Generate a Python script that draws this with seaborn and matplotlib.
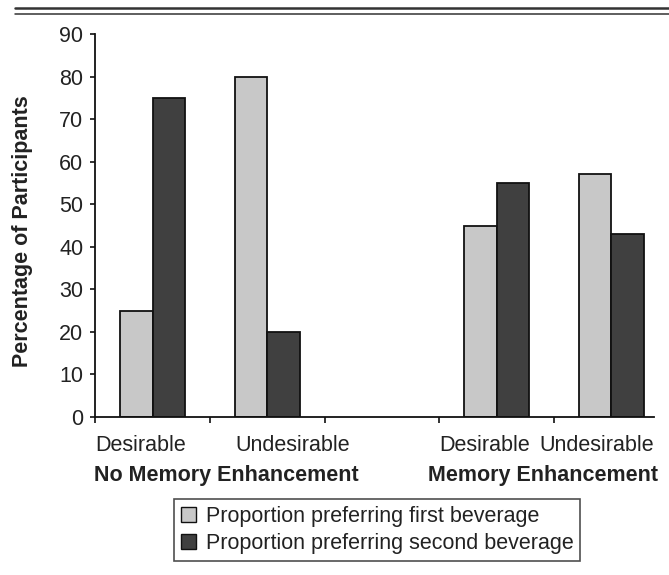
import matplotlib
matplotlib.use("Agg")
import matplotlib.pyplot as plt
from matplotlib.lines import Line2D
import seaborn as sns
import pandas as pd

# ---- data ----
slots = ["NoMem-Desirable", "NoMem-Undesirable", "gap", "Mem-Desirable", "Mem-Undesirable"]
slot_labels = ["Desirable", "Undesirable", "", "Desirable", "Undesirable"]
bar_slots = ["NoMem-Desirable", "NoMem-Undesirable", "Mem-Desirable", "Mem-Undesirable"]
first_beverage = [25, 80, 45, 57]
second_beverage = [75, 20, 55, 43]
series_names = ["Proportion preferring first beverage", "Proportion preferring second beverage"]
group_labels = ["No Memory Enhancement", "Memory Enhancement"]
y_ticks = [0, 10, 20, 30, 40, 50, 60, 70, 80, 90]
y_label = "Percentage of Participants"

# layout (not data)
label_offsets = [-0.105, 0.225, 0.0, -0.104, -0.125]
group_label_x = [0.639, 3.40]
colors = ["#c8c8c8", "#404040"]

df = pd.DataFrame({
    "slot": bar_slots * 2,
    "series": [series_names[0]] * 4 + [series_names[1]] * 4,
    "value": first_beverage + second_beverage,
})

sns.set_style("white")
plt.rcParams["font.family"] = ["Liberation Sans", "DejaVu Sans"]
FS = 15.5
TXT = "#222222"

fig = plt.figure(figsize=(6.69, 5.75), dpi=100)
ax = fig.add_axes([95.3 / 669, (575 - 417) / 575, 573.5 / 669, (417 - 34) / 575])

sns.barplot(data=df, x="slot", y="value", hue="series", order=slots,
            hue_order=series_names, palette=colors, width=0.567, gap=0,
            errorbar=None, edgecolor="#111111", linewidth=1.3, saturation=1,
            ax=ax, legend=True)

handles, labels = ax.get_legend_handles_labels()
ax.get_legend().remove()

ax.set_xlim(-0.5, 4.5)
ax.set_ylim(0, 90)
ax.set_yticks(y_ticks)
ax.set_yticklabels([str(v) for v in y_ticks], fontsize=FS, color=TXT)
ax.tick_params(axis="y", direction="out", length=3.5, width=1.2, pad=5, left=True, color="#111111")

# category ticks at boundaries
ax.set_xticks(range(len(slots)))
ax.set_xticklabels([])
ax.tick_params(axis="x", which="major", length=0)
ax.set_xticks([-0.5, 0.5, 1.5, 2.5, 3.5], minor=True)
ax.tick_params(axis="x", which="minor", direction="out", length=4, width=1.2, bottom=True, color="#111111")

for s in ["top", "right"]:
    ax.spines[s].set_visible(False)
for s in ["left", "bottom"]:
    ax.spines[s].set_color("#111111")
    ax.spines[s].set_linewidth(1.3)
ax.spines["bottom"].set_bounds(-0.5, 4.37)
ax.set_xlabel("")
ax.set_ylabel(y_label, fontsize=FS, fontweight="bold", color=TXT)
ax.yaxis.set_label_coords((33 - 95.3) / 573.5, 0.485)

tr = ax.get_xaxis_transform()
for i, lab in enumerate(slot_labels):
    if lab:
        ax.text(i + label_offsets[i], -0.0757, lab, transform=tr, ha="center", va="center",
                fontsize=FS, color=TXT, clip_on=False)
for gx, gl in zip(group_label_x, group_labels):
    ax.text(gx, -0.154, gl, transform=tr, ha="center", va="center",
            fontsize=FS, fontweight="bold", color=TXT, clip_on=False)

leg = fig.legend(handles, labels, loc="center", bbox_to_anchor=(377 / 669, 1 - 530 / 575),
                 frameon=True, fancybox=False, fontsize=FS, handlelength=0.7, handleheight=0.7,
                 handletextpad=0.45, labelspacing=0.3, borderpad=0.3, edgecolor="#222222")
leg.get_frame().set_linewidth(1.2)
for t in leg.get_texts():
    t.set_color(TXT)
for h in leg.legend_handles:
    h.set_edgecolor("#111111")
    h.set_linewidth(1.0)

# double rule at the top
fig.add_artist(Line2D([15 / 669, 1.0], [1 - 8.3 / 575] * 2, transform=fig.transFigure, color="#333333", linewidth=1.8))
fig.add_artist(Line2D([15 / 669, 1.0], [1 - 13.8 / 575] * 2, transform=fig.transFigure, color="#333333", linewidth=1.1))

fig.savefig("out.png", dpi=100)
